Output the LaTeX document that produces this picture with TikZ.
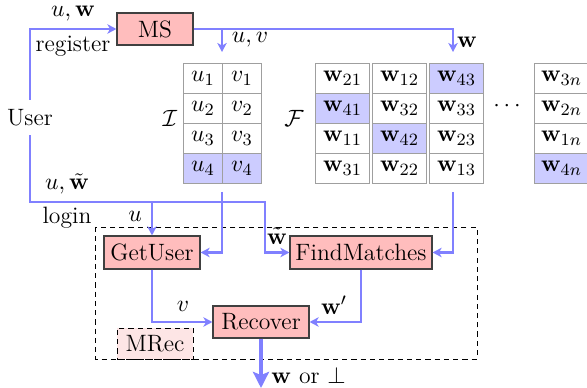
\documentclass[tikz,border=0pt]{standalone}
\usetikzlibrary{arrows.meta,calc}
\definecolor{flowblue}{HTML}{8080FF}
\definecolor{boxpink}{HTML}{FFBDBD}
\definecolor{cellblue}{HTML}{CCCCFF}
\definecolor{mrecpink}{HTML}{FDE5E5}
\def\pxu{0.465pt}
\begin{document}
\fontsize{11}{13}\selectfont
\begin{tikzpicture}[x=0.465pt,y=-0.465pt,
  proc/.style={draw=black!75, fill=boxpink, line width=0.55pt, inner sep=0pt},
  celli/.style={draw=gray!75, line width=0.5pt, anchor=north west, inner sep=0pt, minimum width=39*\pxu, minimum height=30*\pxu},
  cellf/.style={draw=gray!75, line width=0.5pt, anchor=north west, inner sep=0pt, minimum width=54*\pxu, minimum height=30*\pxu},
  flow/.style={draw=flowblue, line width=0.95pt, -{Stealth[length=4.2pt,width=4.4pt,inset=1.2pt]}},
  bigflow/.style={draw=flowblue, line width=2.2pt, -{Stealth[length=7.5pt,width=7.5pt,inset=1.5pt]}},
  lbl/.style={inner sep=0pt},
  dashbox/.style={line width=0.4pt, dash pattern=on 2.4pt off 1.9pt}
]
\useasboundingbox (0,0) rectangle (587,388);

% dashed container
\draw[black, dashbox] (95,227) rectangle (477,359);

% process boxes
\node[proc, minimum width=76*\pxu, minimum height=32*\pxu] (ms) at (155,29) {MS};
\node[proc, minimum width=96*\pxu, minimum height=33*\pxu] (getuser) at (152,252.5) {GetUser};
\node[proc, minimum width=142*\pxu, minimum height=33*\pxu] (find) at (361,252.5) {FindMatches};
\node[proc, minimum width=96*\pxu, minimum height=32*\pxu] (recover) at (261,322) {Recover};
\node[draw=black, fill=mrecpink, dashbox, inner sep=0pt, minimum width=76*\pxu, minimum height=31*\pxu] (mrec) at (155,343.5) {MRec};

\node[lbl] (user) at (30,118) {User};

% table I
\node[celli] (iu1) at (183,63) {$u_1$};
\node[celli] (iv1) at (222,63) {$v_1$};
\node[celli] (iu2) at (183,93) {$u_2$};
\node[celli] (iv2) at (222,93) {$v_2$};
\node[celli] (iu3) at (183,123) {$u_3$};
\node[celli] (iv3) at (222,123) {$v_3$};
\node[celli,fill=cellblue] (iu4) at (183,153) {$u_4$};
\node[celli,fill=cellblue] (iv4) at (222,153) {$v_4$};
\node[lbl] (ilab) at (170,118) {$\mathcal{I}$};

% table F
\node[cellf] (fa1) at (315,63) {$\mathbf{w}_{21}$};
\node[cellf,fill=cellblue] (fa2) at (315,93) {$\mathbf{w}_{41}$};
\node[cellf] (fa3) at (315,123) {$\mathbf{w}_{11}$};
\node[cellf] (fa4) at (315,153) {$\mathbf{w}_{31}$};
\node[cellf] (fb1) at (372,63) {$\mathbf{w}_{12}$};
\node[cellf] (fb2) at (372,93) {$\mathbf{w}_{32}$};
\node[cellf,fill=cellblue] (fb3) at (372,123) {$\mathbf{w}_{42}$};
\node[cellf] (fb4) at (372,153) {$\mathbf{w}_{22}$};
\node[cellf,fill=cellblue] (fc1) at (429,63) {$\mathbf{w}_{43}$};
\node[cellf] (fc2) at (429,93) {$\mathbf{w}_{33}$};
\node[cellf] (fc3) at (429,123) {$\mathbf{w}_{23}$};
\node[cellf] (fc4) at (429,153) {$\mathbf{w}_{13}$};
\node[cellf] (fd1) at (534,63) {$\mathbf{w}_{3n}$};
\node[cellf] (fd2) at (534,93) {$\mathbf{w}_{2n}$};
\node[cellf] (fd3) at (534,123) {$\mathbf{w}_{1n}$};
\node[cellf,fill=cellblue] (fd4) at (534,153) {$\mathbf{w}_{4n}$};
\node[lbl] (flab) at (294,118) {$\mathcal{F}$};
\node[lbl] (dots) at (507,106) {$\cdots$};

% coordinates
\coordinate (iin) at (222,52);
\coordinate (fin) at (453,52);
\coordinate (iout) at (222,192);
\coordinate (fout) at (453,192);
\coordinate (wt) at (265,202);
\coordinate (out) at (261,388);

% register
\draw[flow, shorten <=4.5pt] (user.north) |- (ms.west);
\draw[flow] (ms.east) -| (fin);
\draw[flow] (ms.east -| iin) -- (iin);

% login
\draw[flow, shorten <=4pt] (user.south) |- (wt) |- (find.west);
\draw[flow] (getuser.north |- wt) -- (getuser.north);
\draw[flow] (iout) |- (getuser.east);
\draw[flow] (fout) |- (find.east);
\draw[flow] (getuser.south) |- (recover.west);
\draw[flow] (find.south) |- (recover.east);
\draw[bigflow] (recover.south) -- (out);

% labels
\node[lbl] at (73,14) {$u,\mathbf{w}$};
\node[lbl] at (73,46) {register};
\node[lbl] at (250,40) {$u,v$};
\node[lbl] at (467,42) {$\mathbf{w}$};
\node[lbl] at (67,184) {$u,\tilde{\mathbf{w}}$};
\node[lbl] at (67,218) {login};
\node[lbl] at (135,216) {$u$};
\node[lbl] at (277,236) {$\tilde{\mathbf{w}}$};
\node[lbl] at (183,306) {$v$};
\node[lbl] at (334,305) {$\mathbf{w}'$};
\node[lbl, anchor=west] at (271,375) {$\mathbf{w}$ or $\perp$};
\end{tikzpicture}
\end{document}
